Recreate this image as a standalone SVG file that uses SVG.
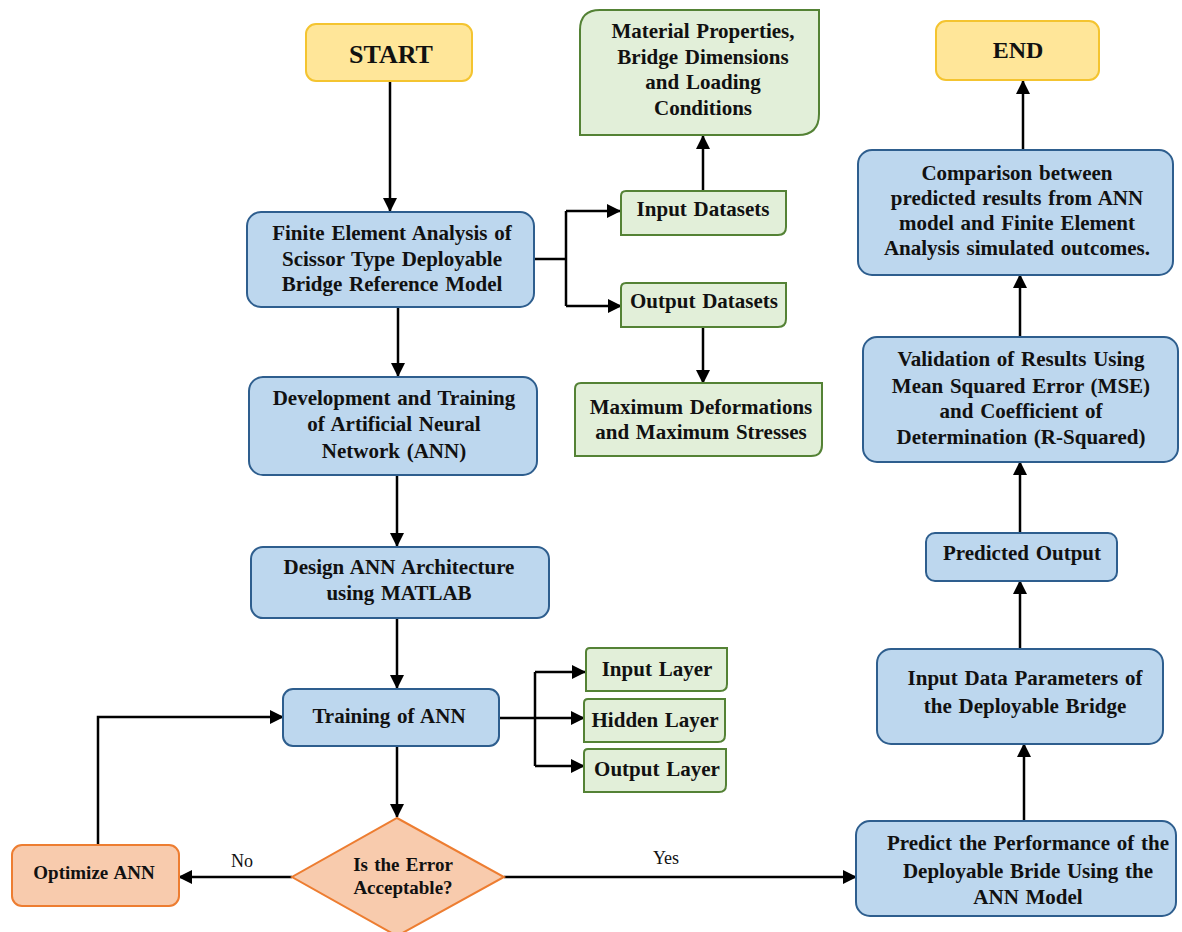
<svg xmlns="http://www.w3.org/2000/svg" width="1182" height="932" viewBox="0 0 1182 932">
<defs>
<marker id="ah" markerUnits="userSpaceOnUse" markerWidth="14" markerHeight="14" refX="13" refY="7" orient="auto">
<path d="M0,0 L14,7 L0,14 z" fill="#000"/>
</marker>
<style>
.blue{fill:#bdd7ee;stroke:#2e5e8e;stroke-width:2}
.green{fill:#e2efd9;stroke:#548235;stroke-width:2}
.yellow{fill:#ffe699;stroke:#f4c430;stroke-width:2}
.orange{fill:#f8cbad;stroke:#ed7d31;stroke-width:2}
text{font-family:"Liberation Serif","Times New Roman",serif;font-weight:bold;font-size:21px;word-spacing:1.5px;fill:#111;text-anchor:middle}
.lbl{font-weight:normal;font-size:18px}
.conn path{fill:none;stroke:#000;stroke-width:2.5}
.arr{marker-end:url(#ah)}
</style>
</defs>
<rect width="1182" height="932" fill="#fff"/>

<g class="conn" id="connectors">
<path class="arr" d="M390,81 V211"/>
<path class="arr" d="M398,307 V376"/>
<path class="arr" d="M397,475 V546"/>
<path class="arr" d="M397,618 V688"/>
<path class="arr" d="M397,746 V817"/>
<path d="M534,259 H566 M566,211 V306"/>
<path class="arr" d="M566,211 H620"/>
<path class="arr" d="M566,306 H621"/>
<path class="arr" d="M703,191 V136"/>
<path class="arr" d="M703,326 V383"/>
<path d="M500,718 H535 M535,672 V766"/>
<path class="arr" d="M535,672 H585"/>
<path class="arr" d="M535,718 H584"/>
<path class="arr" d="M535,766 H584"/>
<path class="arr" d="M292,877 H179"/>
<path class="arr" d="M98,845 V717 H283"/>
<path class="arr" d="M504,877 H856"/>
<path class="arr" d="M1024,821 V744"/>
<path class="arr" d="M1020,649 V581"/>
<path class="arr" d="M1020,533 V462"/>
<path class="arr" d="M1020,337 V275"/>
<path class="arr" d="M1023,150 V81"/>
<text class="lbl" x="242" y="867">No</text>
<text class="lbl" x="666" y="864">Yes</text>
</g>

<g id="start"><rect class="yellow" x="306" y="24" width="166" height="57" rx="10"/><text x="391" y="63" style="font-size:26px">START</text></g>

<g id="fea"><rect class="blue" x="247" y="212" width="287" height="95" rx="14"/>
<text x="392" y="240">Finite Element Analysis of</text>
<text x="392" y="266">Scissor Type Deployable</text>
<text x="392" y="291">Bridge Reference Model</text></g>

<g id="material"><path class="green" d="M600,10 H819 V114 Q819,135 798,135 H580 V30 Q580,10 600,10 Z"/>
<text x="703" y="38">Material Properties,</text>
<text x="703" y="64">Bridge Dimensions</text>
<text x="703" y="89">and Loading</text>
<text x="703" y="115">Conditions</text></g>

<g id="input-datasets"><path class="green" d="M626,191 H786 V227 Q786,235 778,235 H621 V196 Q621,191 626,191 Z"/>
<text x="703" y="216">Input Datasets</text></g>

<g id="output-datasets"><path class="green" d="M626,283 H786 V319 Q786,327 778,327 H621 V288 Q621,283 626,283 Z"/>
<text x="704" y="308">Output Datasets</text></g>

<g id="max"><path class="green" d="M581,383 H822 V445 Q822,456 811,456 H575 V389 Q575,383 581,383 Z"/>
<text x="701" y="414">Maximum Deformations</text>
<text x="701" y="439">and Maximum Stresses</text></g>

<g id="dev"><rect class="blue" x="249" y="377" width="288" height="98" rx="14"/>
<text x="394" y="405">Development and Training</text>
<text x="394" y="431">of Artificial Neural</text>
<text x="394" y="458">Network (ANN)</text></g>

<g id="design"><rect class="blue" x="251" y="547" width="298" height="71" rx="12"/>
<text x="399" y="574">Design ANN Architecture</text>
<text x="399" y="600">using MATLAB</text></g>

<g id="training"><rect class="blue" x="283" y="689" width="216" height="57" rx="10"/>
<text x="389" y="723">Training of ANN</text></g>

<g id="input-layer"><path class="green" d="M590,648 H727 V684 Q727,691 720,691 H586 V652 Q586,648 590,648 Z"/>
<text x="657" y="676">Input Layer</text></g>

<g id="hidden-layer"><path class="green" d="M588,699 H725 V735 Q725,742 718,742 H584 V703 Q584,699 588,699 Z"/>
<text x="655" y="727">Hidden Layer</text></g>

<g id="output-layer"><path class="green" d="M588,749 H726 V785 Q726,792 719,792 H584 V753 Q584,749 588,749 Z"/>
<text x="657" y="776">Output Layer</text></g>

<g id="decision"><polygon class="orange" points="397,818 504,877 397,936 292,877"/>
<text x="403" y="871" style="font-size:19px">Is the Error</text>
<text x="403" y="894" style="font-size:19px">Acceptable?</text></g>

<g id="optimize"><rect class="orange" x="12" y="845" width="167" height="61" rx="10"/>
<text x="94" y="879" style="font-size:19px">Optimize ANN</text></g>

<g id="predict"><rect class="blue" x="856" y="821" width="320" height="95" rx="14"/>
<text x="1028" y="850">Predict the Performance of the</text>
<text x="1028" y="878">Deployable Bride Using the</text>
<text x="1028" y="904">ANN Model</text></g>

<g id="input-data"><rect class="blue" x="877" y="649" width="286" height="95" rx="14"/>
<text x="1025" y="685">Input Data Parameters of</text>
<text x="1025" y="713">the Deployable Bridge</text></g>

<g id="predicted"><rect class="blue" x="926" y="533" width="191" height="48" rx="9"/>
<text x="1022" y="560">Predicted Output</text></g>

<g id="validation"><rect class="blue" x="863" y="337" width="315" height="125" rx="14"/>
<text x="1021" y="366">Validation of Results Using</text>
<text x="1021" y="393">Mean Squared Error (MSE)</text>
<text x="1021" y="418">and Coefficient of</text>
<text x="1021" y="444">Determination (R-Squared)</text></g>

<g id="comparison"><rect class="blue" x="858" y="150" width="315" height="125" rx="14"/>
<text x="1017" y="180">Comparison between</text>
<text x="1017" y="205">predicted results from ANN</text>
<text x="1017" y="230">model and Finite Element</text>
<text x="1017" y="255">Analysis simulated outcomes.</text></g>

<g id="end"><rect class="yellow" x="936" y="21" width="163" height="59" rx="10"/><text x="1018" y="58" style="font-size:24px">END</text></g>
</svg>
